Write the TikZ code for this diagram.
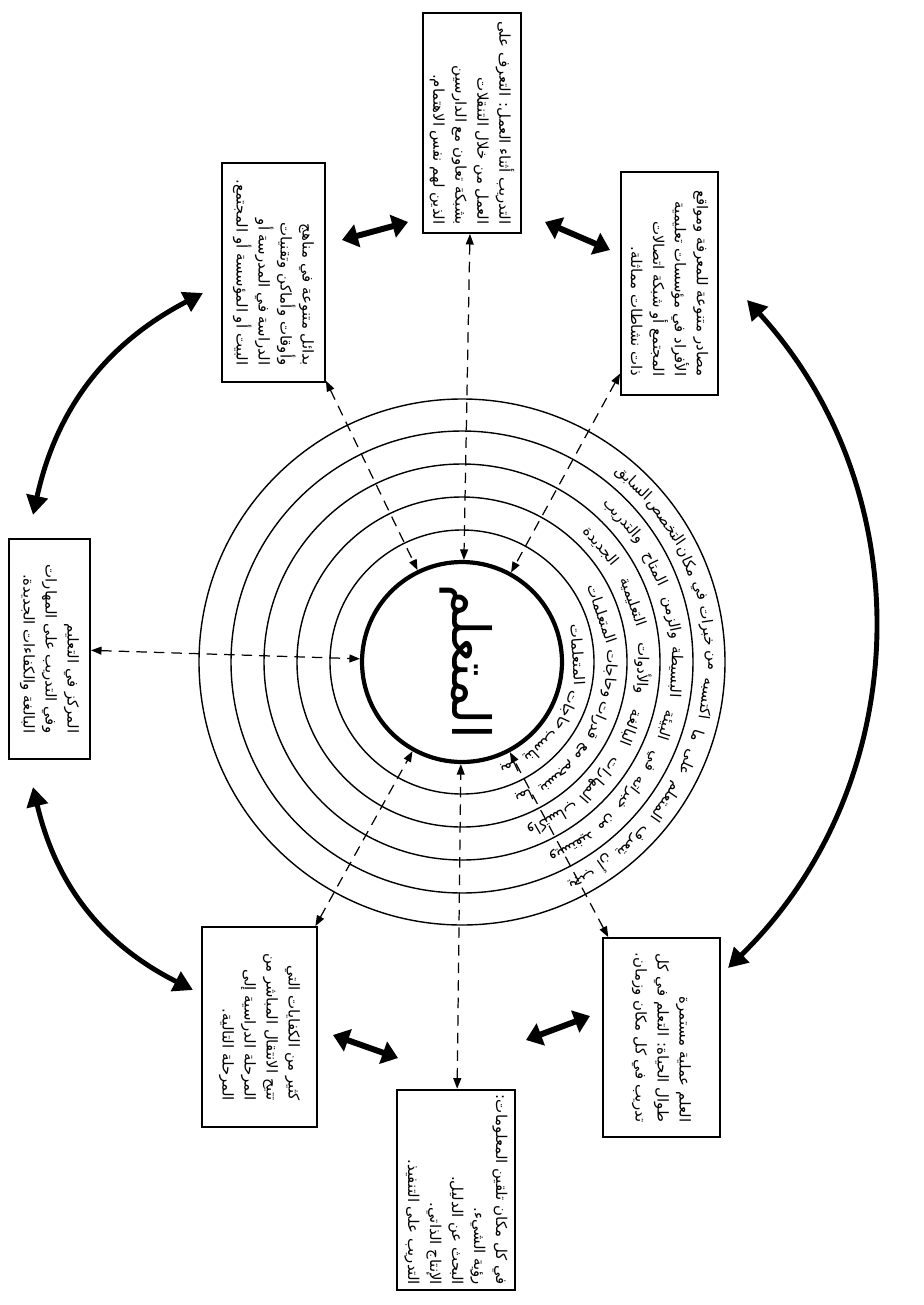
\documentclass[tikz,border=0pt]{standalone}
\usepackage{fontspec}
\usetikzlibrary{arrows.meta,calc}
\newfontfamily\arabicfont[Script=Arabic]{DejaVu Sans}
\TeXXeTstate=1
\newcommand\ar[1]{\beginR #1\endR}
\makeatletter
\newcount\ccnt
\def\countchars#1{\ccnt=0 \expandafter\cc@loop#1\@nil}
\def\cc@loop#1{\ifx#1\@nil\else\advance\ccnt by 1 \expandafter\cc@loop\fi}
\makeatother
% #1 radius (px), #2 start angle, #3 font, #4 name prefix, #5 words in reading order
% #6 advance per character (pt)
\newcommand\ringwords[6]{%
  \gdef\curang{#2}%
  \pgfmathsetmacro\spacedeg{4/(#1*0.5690551)*57.29578}%
  \foreach \w [count=\i] in {#5}{%
    \countchars{\w}%
    \pgfmathsetmacro\dang{(\the\ccnt*#6+3)/(#1*0.5690551)*57.29578}%
    \pgfmathsetmacro\midang{\curang+\dang/2}%
    \pgfmathsetmacro\rotang{\midang-90}%
    \node[rotate=\rotang, inner sep=0pt, font=#3] (#4-\i) at ($(c.center)+(\midang:#1)$) {\beginR\w\endR};%
    \pgfmathsetmacro\nextang{\curang+\dang+\spacedeg}%
    \xdef\curang{\nextang}%
  }}
\tikzset{
  box/.style={draw, line width=1.1pt, rotate=-90, inner sep=3pt, align=right,
    font=\arabicfont\fontsize{8.5}{12.5}\selectfont},
  ringline/.style={line width=0.8pt},
  ringfont/.style={},
  dasharrow/.style={dash pattern=on 6pt off 4pt, line width=0.7pt,
    {Triangle[length=6pt,width=4.5pt]}-{Triangle[length=6pt,width=4.5pt]}},
  dblarrow/.style={line width=3.4pt,
    {Triangle[length=9pt,width=13pt]}-{Triangle[length=9pt,width=13pt]}},
  curvearrow/.style={line width=2.8pt,
    {Triangle[length=11pt,width=12pt]}-{Triangle[length=11pt,width=12pt]}},
}
\newcommand\rfont{\arabicfont\fontsize{8.5}{9}\selectfont}
\begin{document}
\begin{tikzpicture}[x=0.02cm,y=0.02cm]
\fill[white] (0,0) rectangle (923,-1305);
\useasboundingbox (0,0) rectangle (923,-1305);

% centre
\node[circle, draw, line width=2.4pt, minimum size=4cm, inner sep=0pt] (c) at (462,-662) {};
\foreach \r in {132,165,198,231,263} \draw[ringline] (c.center) circle[radius=\r];
\node[rotate=-90, font=\arabicfont\fontsize{30}{36}\selectfont] (learner) at (466,-662) {\ar{المتعلم}};

% ring texts
\ringwords{116}{-72}{\rfont}{rA}{بما,يناسب,حاجات,المتعلمات}{3.7}
\ringwords{148}{-70}{\rfont}{rB}{بما,ينسجم,مع,قدرات,وحاجات,المتعلمات}{3.7}
\ringwords{181}{-68}{\rfont}{rC}{واكتساب,المهارات,البالغة,والأدوات,التعليمية,الجديدة}{3.7}
\ringwords{214}{-66}{\rfont}{rD}{ويستفيد,من,خبراته,في,البيئة,البسيطة,والزمن,المتاح,والتدريب}{3.7}
\ringwords{247}{-64}{\rfont}{rE}{يجب,أن,يتعرف,المتعلم,على,ما,اكتسبه,من,خبرات,في,مكان,التخصص,السابق}{3.7}

% boxes
\node[box, minimum width=4.46cm, minimum height=1.94cm] (B1) at (669.5,-283.5)
 {\ar{مصادر متنوعة للمعرفة ومواقع}\\\ar{الأفراد في مؤسسات تعليمية}\\\ar{المجتمع أو شبكة اتصالات}\\\ar{ذات نشاطات مماثلة.}};
\node[box, minimum width=4.4cm, minimum height=1.96cm] (B2) at (472,-123)
 {\ar{التدريب أثناء العمل: التعرف على}\\\ar{العمل من خلال التنقلات}\\\ar{بشبكة تعاون مع الدارسين}\\\ar{الذين لهم نفس الاهتمام.}};
\node[box, minimum width=4.38cm, minimum height=2.06cm] (B3) at (273.5,-272.5)
 {\ar{بدائل متنوعة في مناهج}\\\ar{وأوقات وأماكن وتقنيات}\\\ar{الدراسة في المدرسة أو}\\\ar{البيت أو المؤسسة أو المجتمع.}};
\node[box, minimum width=4.4cm, minimum height=1.62cm] (B4) at (49.5,-649)
 {\ar{المركز في التعليم}\\\ar{وفي التدريب على المهارات}\\\ar{البالغة والكفاءات الجديدة.}};
\node[box, minimum width=4.0cm, minimum height=2.3cm] (B5) at (259.5,-1027)
 {\ar{كثير من الكفايات التي}\\\ar{تتيح الانتقال المباشر من}\\\ar{المرحلة الدراسية إلى}\\\ar{المرحلة التالية.}};
\node[box, minimum width=4.0cm, minimum height=2.36cm] (B6) at (456,-1190)
 {\ar{في كل مكان تلقين المعلومات:}\\\ar{رؤية الشيء.}\\\ar{البحث عن الدليل.}\\\ar{الإنتاج الذاتي.}\\\ar{التدريب على التنفيذ.}};
\node[box, minimum width=3.98cm, minimum height=2.34cm] (B7) at (661.5,-1037.5)
 {\ar{العلم عملية مستمرة}\\\ar{طوال الحياة: التعلم في كل}\\\ar{تدريب في كل مكان وزمان.}};

% dashed two-way arrows to the centre
\foreach \b in {B1,B2,B3,B4,B5,B6,B7} \draw[dasharrow] (\b) -- (c);

% short thick two-way arrows
\coordinate (a12a) at (545,-222); \coordinate (a12b) at (610,-250);
\coordinate (a23a) at (342,-240); \coordinate (a23b) at (408,-222);
\coordinate (a56a) at (333,-1035); \coordinate (a56b) at (398,-1058);
\coordinate (a67a) at (526,-1040); \coordinate (a67b) at (590,-1016);
\draw[dblarrow] (a12a) -- (a12b);
\draw[dblarrow] (a23a) -- (a23b);
\draw[dblarrow] (a56a) -- (a56b);
\draw[dblarrow] (a67a) -- (a67b);

% curved thick two-way arrows
\coordinate (c34a) at (203,-293); \coordinate (c34b) at (33,-515);
\coordinate (c45a) at (33,-787); \coordinate (c45b) at (193,-990);
\coordinate (c17a) at (747,-300); \coordinate (c17b) at (728,-968);
\draw[curvearrow] (c34a) to[bend right=25] (c34b);
\draw[curvearrow] (c45a) to[bend right=25] (c45b);
\draw[curvearrow] (c17a) to[bend left=44] (c17b);
\end{tikzpicture}
\end{document}
